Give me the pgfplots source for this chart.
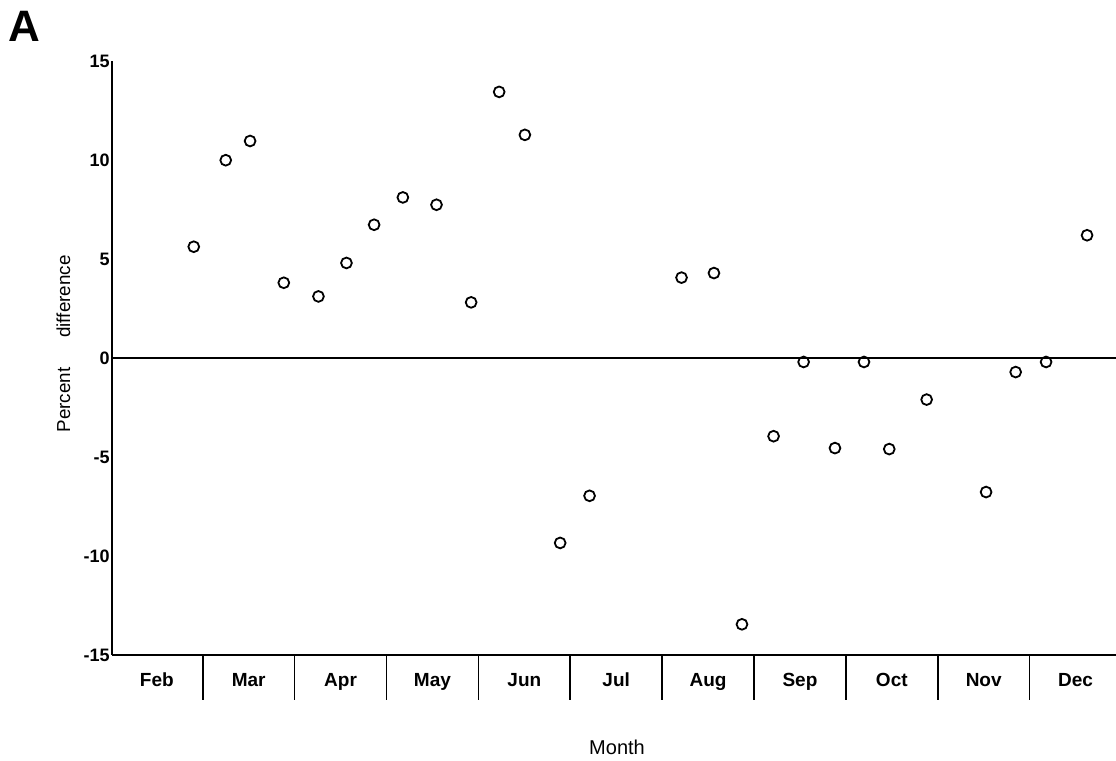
\documentclass[border=0pt]{standalone}
\usepackage{fontspec}
\setmainfont{Liberation Sans}
\usepackage{pgfplots}
\pgfplotsset{compat=1.18}
\begin{document}
\begin{tikzpicture}
\useasboundingbox (0pt,0pt) rectangle (558pt,380.5pt);
\begin{axis}[
  at={(56pt,53pt)}, anchor=south west,
  scale only axis, width=502pt, height=297pt,
  xmin=0.512, xmax=11.44, ymin=-15, ymax=15,
  axis x line=bottom, axis y line=left,
  axis line style={-, line width=0.9pt, black},
  ytick={-15,-10,...,15}, yticklabels={-15,-10,-5,0,5,10,15},
  xtick={1,2,...,11},
  xticklabels={Feb,Mar,Apr,May,Jun,Jul,Aug,Sep,Oct,Nov,Dec},
  major tick length=0pt,
  extra x ticks={1.5,2.5,3.5,4.5,5.5,6.5,7.5,8.5,9.5,10.5},
  extra x tick labels={},
  extra x tick style={major tick length=22.5pt, tick align=outside, tick style={black, line width=0.8pt}},
  yticklabel style={font=\bfseries\fontsize{9}{11}\selectfont, anchor=east, inner sep=1pt},
  xticklabel style={font=\bfseries\fontsize{9.5}{11}\selectfont, anchor=base, yshift=-15.8pt},
  xlabel={Month},
  xlabel style={font=\fontsize{10}{12}\selectfont, at={(axis description cs:0.503,-0.1667)}, anchor=base},
  ylabel={Percent\hspace{15pt}difference},
  ylabel style={font=\fontsize{9.4}{11}\selectfont, at={(axis description cs:-0.0418,0.5236)}, anchor=base},
  clip=false,
]
\addplot[black, line width=0.7pt] coordinates {(0.512,0) (11.44,0)};
\addplot[only marks, mark=o, mark size=2.7pt, black, line width=0.9pt] coordinates {
(1.402,5.62) (1.750,9.99) (2.015,10.96) (2.382,3.80) (2.759,3.11)
(3.064,4.80) (3.365,6.73) (3.678,8.11) (4.044,7.74) (4.421,2.81)
(4.726,13.44) (5.006,11.27) (5.390,-9.34) (5.710,-6.96)
(6.711,4.06) (7.064,4.29) (7.369,-13.45) (7.713,-3.95)
(8.040,-0.2) (8.381,-4.55) (8.697,-0.2) (8.972,-4.6)
(9.379,-2.1) (10.026,-6.77) (10.348,-0.71) (10.679,-0.2) (11.125,6.2)
};
\node[anchor=base west, inner sep=0pt, font=\bfseries\fontsize{22}{26}\selectfont] at (axis description cs:-0.1036,1.0325) {A};
\end{axis}
\end{tikzpicture}
\end{document}
